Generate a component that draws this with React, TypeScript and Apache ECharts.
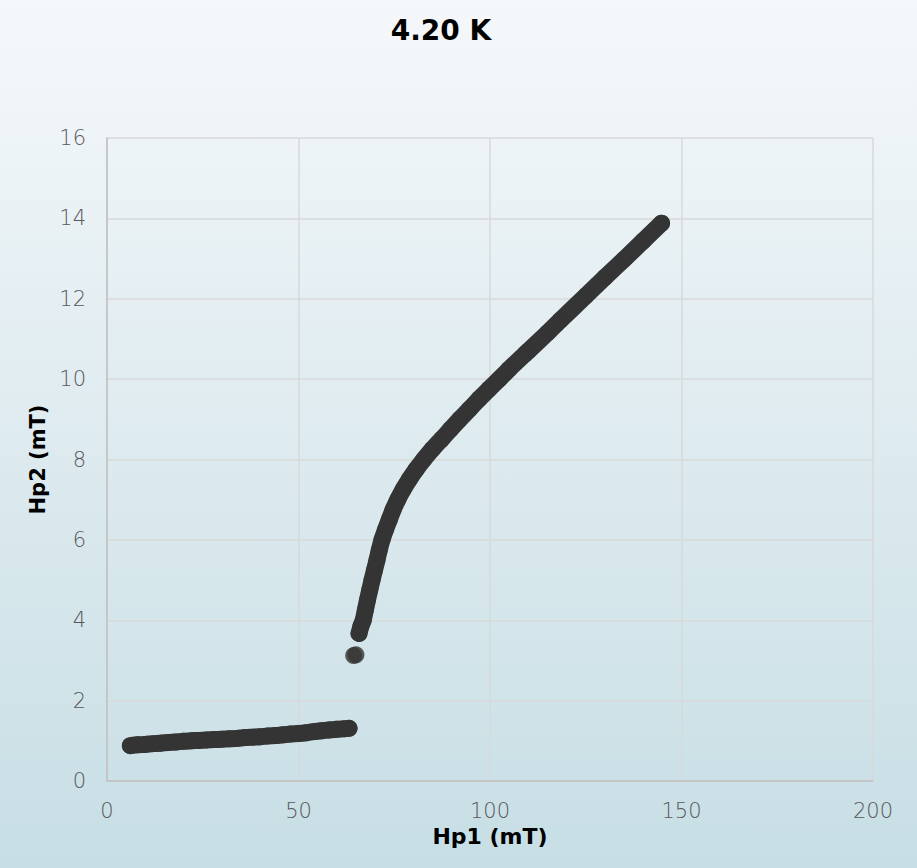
import React, { useEffect, useRef } from "react";
import * as echarts from "echarts";

const titleText = "4.20 K";
const xAxisName = "Hp1 (mT)";
const yAxisName = "Hp2 (mT)";
const xTicks = [0, 50, 100, 150, 200];
const yTicks = [0, 2, 4, 6, 8, 10, 12, 14, 16];

// Low-field branch (Hp1, Hp2)
const lowBranch: [number, number][] = [
  [6.1, 0.88], [8, 0.9], [10, 0.91], [12, 0.93], [14, 0.94], [16, 0.96],
  [18, 0.97], [20, 0.99], [22, 1.0], [24, 1.01], [26, 1.02], [28, 1.03],
  [30, 1.04], [32, 1.05], [34, 1.06], [36, 1.08], [38, 1.09], [40, 1.1],
  [42, 1.12], [44, 1.13], [46, 1.15], [48, 1.17], [50, 1.18], [52, 1.2],
  [54, 1.23], [56, 1.25], [58, 1.27], [60, 1.29], [62, 1.3], [63.2, 1.31],
];

// Isolated points at the jump
const jumpPoints: [number, number][] = [
  [64.4, 3.12], [65.0, 3.14],
];

// High-field branch
const upperBranch: [number, number][] = [
  [65.8, 3.67], [66.3, 3.85], [66.9, 4.0], [67.45, 4.25], [68.0, 4.5],
  [68.6, 4.75], [69.2, 5.0], [69.85, 5.25], [70.5, 5.5], [71.1, 5.75],
  [71.8, 6.0], [72.7, 6.25], [73.7, 6.5], [74.7, 6.75], [75.9, 7.0],
  [77.3, 7.25], [78.9, 7.5], [80.7, 7.75], [82.7, 8.0], [84.9, 8.25],
  [87.3, 8.5], [89.7, 8.75], [92.1, 9.0], [94.6, 9.25], [97.1, 9.5],
  [99.7, 9.75], [102.4, 10.0], [105, 10.25], [110, 10.7], [115, 11.15],
  [118.4, 11.47], [125, 12.07], [130, 12.53], [135, 12.98], [140, 13.44],
  [144.8, 13.88],
];

const markColor = "#353535";
const bandWidth = 17;

export default function App() {
  const ref = useRef<HTMLDivElement>(null);

  useEffect(() => {
    if (!ref.current) return;
    const chart = echarts.init(ref.current, undefined, { renderer: "svg" });
    const tickFont = {
      color: "#595959",
      fontSize: 21,
      fontFamily: "DejaVu Sans",
      fontWeight: 200 as any,
    };
    const nameFont = {
      color: "#000000",
      fontSize: 22,
      fontWeight: "bold",
      fontFamily: "DejaVu Sans",
    };
    chart.setOption({
      animation: false,
      backgroundColor: new echarts.graphic.LinearGradient(0, 0, 0, 1, [
        { offset: 0, color: "#f5f8fa" },
        { offset: 1, color: "#c7dee5" },
      ]),
      title: {
        text: titleText,
        left: 436,
        top: 11,
        textAlign: "center",
        textStyle: {
          color: "#000000",
          fontSize: 28,
          fontWeight: "bold",
          fontFamily: "DejaVu Sans",
        },
      },
      grid: { left: 107, right: 44, top: 138, bottom: 87, containLabel: false },
      xAxis: {
        type: "value",
        min: xTicks[0],
        max: xTicks[xTicks.length - 1],
        interval: 50,
        name: xAxisName,
        nameLocation: "middle",
        nameGap: 42,
        nameTextStyle: nameFont,
        axisLine: { show: true, lineStyle: { color: "#bfbfbf", width: 1.5 } },
        axisTick: { show: false },
        axisLabel: { ...tickFont, margin: 19 },
        splitLine: { show: true, lineStyle: { color: "#d9d9d9", width: 1.5 } },
      },
      yAxis: {
        type: "value",
        min: yTicks[0],
        max: yTicks[yTicks.length - 1],
        interval: 2,
        name: yAxisName,
        nameLocation: "middle",
        nameGap: 56,
        nameTextStyle: { ...nameFont, fontSize: 21 },
        axisLine: { show: true, lineStyle: { color: "#bfbfbf", width: 1.5 } },
        axisTick: { show: false },
        axisLabel: { ...tickFont, margin: 21 },
        splitLine: { show: true, lineStyle: { color: "#d9d9d9", width: 1.5 } },
      },
      series: [
        {
          type: "line",
          data: lowBranch,
          showSymbol: false,
          smooth: 0.2,
          lineStyle: { color: markColor, width: bandWidth, cap: "round", join: "round" },
          z: 3,
        },
        {
          type: "line",
          data: upperBranch,
          showSymbol: false,
          smooth: 0.2,
          lineStyle: { color: markColor, width: bandWidth, cap: "round", join: "round" },
          z: 3,
        },
        {
          type: "scatter",
          data: [...lowBranch, ...jumpPoints, ...upperBranch],
          symbol: "circle",
          symbolSize: bandWidth,
          itemStyle: { color: markColor },
          z: 4,
        },
      ],
    });
    return () => chart.dispose();
  }, []);

  return (
    <div
      ref={ref}
      style={{ position: "fixed", left: 0, top: 0, width: 917, height: 868 }}
    />
  );
}
